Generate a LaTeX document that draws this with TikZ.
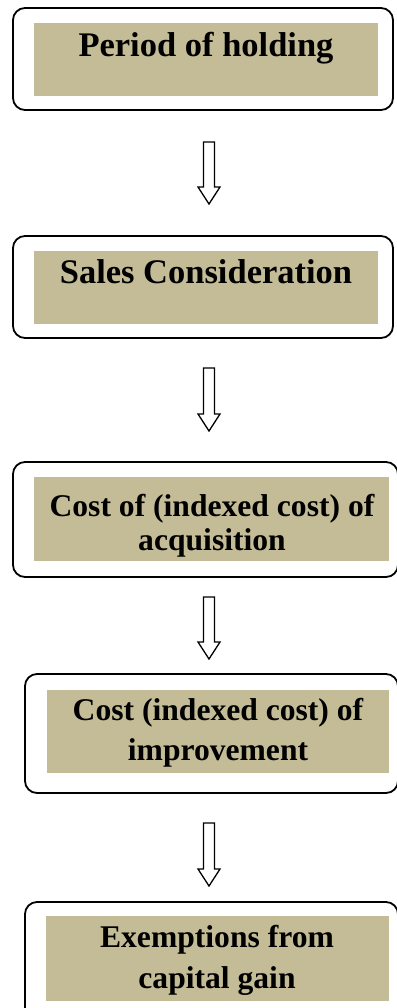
\documentclass[tikz,border=0pt]{standalone}
\usepackage{fontspec}
\setmainfont{Liberation Serif}
\usetikzlibrary{calc}
\definecolor{tanfill}{HTML}{C4BC96}
\tikzset{
  outerbox/.style={draw=black, line width=1.8pt, rounded corners=12pt},
  innerfill/.style={fill=tanfill, draw=none},
  bigtxt/.style={anchor=base, inner sep=0pt, font=\fontsize{34.5}{40}\selectfont\bfseries},
  smalltxt/.style={anchor=base, inner sep=0pt, font=\fontsize{31.6}{38}\selectfont\bfseries},
  blockarrow/.style={draw=black, line width=1.3pt, fill=white, line join=miter}
}
\newcommand\hollowarrow[2]{%
  \draw[blockarrow] ($(#1)+(-5.5,0)$) -- ($(#1)+(5.5,0)$) -- ($(#2)+(5.5,-17)$)
    -- ($(#2)+(11,-17)$) -- (#2) -- ($(#2)+(-11,-17)$) -- ($(#2)+(-5.5,-17)$) -- cycle;}
\begin{document}
\begin{tikzpicture}[x=1pt,y=-1pt]
\useasboundingbox (0,0) rectangle (396,1008);
% box 1
\draw[outerbox] (13,8) rectangle (393,110);
\fill[innerfill] (34,23) rectangle (378,96);
\node[bigtxt] (t1) at (206,57) {Period of holding};
% box 2
\draw[outerbox] (13,236) rectangle (393,338);
\fill[innerfill] (34,251) rectangle (378,324);
\node[bigtxt] (t2) at (206,283) {Sales Consideration};
% box 3
\draw[outerbox] (13,462) rectangle (398,577);
\fill[innerfill] (34,477) rectangle (389,561);
\node[smalltxt] (t3a) at (212,516) {Cost of (indexed cost) of};
\node[smalltxt] (t3b) at (212,550) {acquisition};
% box 4
\draw[outerbox] (25,674) rectangle (398,793);
\fill[innerfill] (47,690) rectangle (389,773);
\node[smalltxt] (t4a) at (218,720) {Cost (indexed cost) of};
\node[smalltxt] (t4b) at (218,760) {improvement};
% box 5
\draw[outerbox] (25,902) rectangle (398,1020);
\fill[innerfill] (46,916) rectangle (389,1001);
\node[smalltxt] (t5a) at (217,947) {Exemptions from};
\node[smalltxt] (t5b) at (217,988) {capital gain};
% arrows
\coordinate (a1s) at (209,142); \coordinate (a1e) at (209,204);
\coordinate (a2s) at (209,368); \coordinate (a2e) at (209,431);
\coordinate (a3s) at (209,597); \coordinate (a3e) at (209,659);
\coordinate (a4s) at (209,823); \coordinate (a4e) at (209,886);
\hollowarrow{a1s}{a1e}
\hollowarrow{a2s}{a2e}
\hollowarrow{a3s}{a3e}
\hollowarrow{a4s}{a4e}
\end{tikzpicture}
\end{document}
